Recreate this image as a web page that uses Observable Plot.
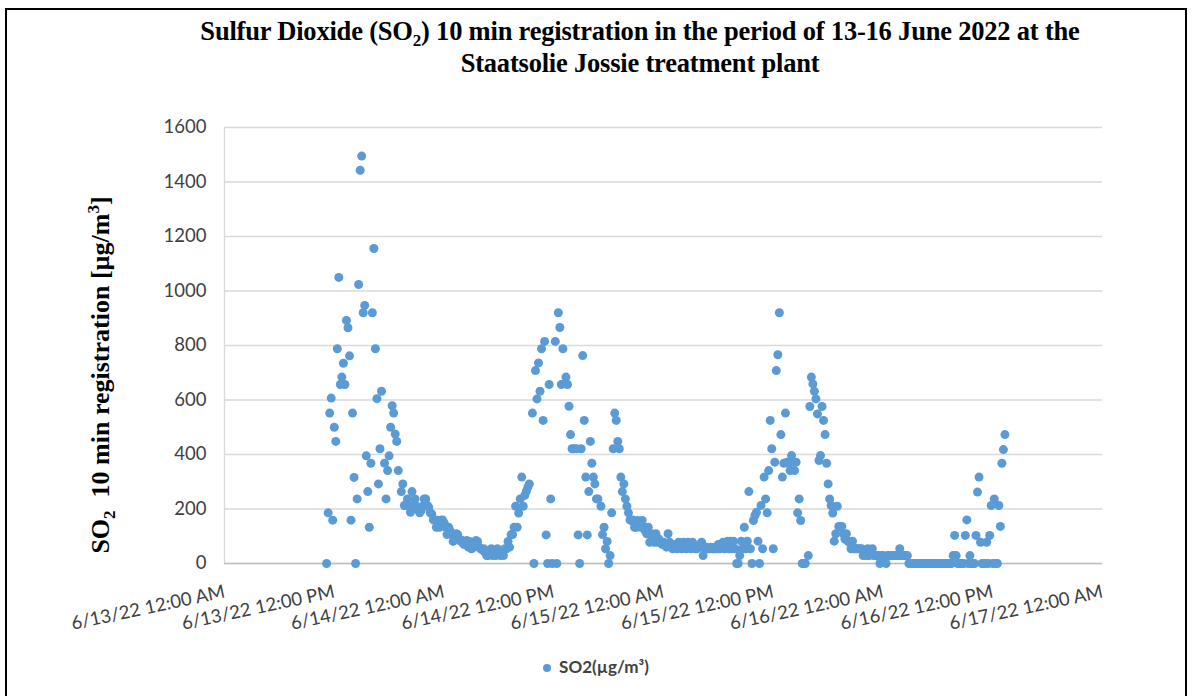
<!DOCTYPE html>
<html><head><meta charset="utf-8">
<script src="https://cdn.jsdelivr.net/npm/d3@7"></script>
<script src="https://cdn.jsdelivr.net/npm/@observablehq/plot@0.6"></script>
<style>
html,body{margin:0;padding:0;width:1192px;height:696px;overflow:hidden;background:#fff;}
#frame{position:absolute;left:5px;top:8px;width:1182px;height:720px;border:2px solid #000;border-bottom:none;box-sizing:border-box;}
#title{position:absolute;left:140px;width:1000px;top:15px;text-align:center;font-family:"Liberation Serif","Times New Roman",serif;font-weight:bold;font-size:26.5px;line-height:32px;color:#000;letter-spacing:-0.2px;}
#title sub{font-size:17px;line-height:0;}
#ytitle{position:absolute;left:101px;top:375px;transform:translate(-50%,-50%) rotate(-90deg);white-space:nowrap;font-family:"Liberation Serif","Times New Roman",serif;font-weight:bold;font-size:26px;color:#000;}
#ytitle sub{font-size:17px;line-height:0;}
#ytitle sup{font-size:17px;line-height:0;}
#chart{position:absolute;left:0;top:90px;}
#legend{position:absolute;left:0;width:1192px;top:656px;text-align:center;font-family:Lato,"Open Sans",sans-serif;font-weight:bold;font-size:17px;color:#404040;}
#legend .sw{display:inline-block;width:8px;height:8px;border-radius:50%;background:#5b9bd5;margin-right:8px;vertical-align:middle;position:relative;top:-1px;}
</style></head>
<body>
<div id="frame"></div>
<div id="title">Sulfur Dioxide (SO<sub>2</sub>) 10 min registration in the period of 13-16 June 2022 at the<br>Staatsolie Jossie treatment plant</div>
<div id="ytitle">SO<sub>2</sub>&nbsp; 10 min registration [µg/m<sup>3</sup>]</div>
<div id="chart"></div>
<div id="legend"><span class="sw"></span>SO2(µg/m³)</div>
<script>
// 10-min readings per day: [time, SO2 µg/m³]
const readings13 = [
["11:10",0],["11:20",186],["11:30",552],["11:40",607],["11:50",159],
["12:00",500],["12:10",448],["12:20",788],["12:30",1050],["12:40",657],["12:50",684],
["13:00",735],["13:10",657],["13:20",892],["13:30",865],["13:40",762],["13:50",159],
["14:00",552],["14:10",316],["14:20",0],["14:30",237],["14:40",1024],["14:50",1443],
["15:00",1495],["15:10",920],["15:20",947],["15:30",395],["15:40",264],["15:50",133],
["16:00",368],["16:10",920],["16:20",1156],["16:30",788],["16:40",605],["16:50",292],
["17:00",421],["17:10",632],["17:30",368],["17:40",237],["17:50",341],
["18:00",395],["18:10",500],["18:20",579],["18:30",552],["18:40",475],["18:50",448],
["19:00",341],["19:20",264],["19:30",292],["19:40",213],["19:50",213],
["20:00",237],["20:10",213],["20:20",188],["20:30",264],["20:40",213],["20:50",237],
["21:00",210],["21:10",200],["21:20",186],["21:30",194],["21:40",210],["21:50",237],
["22:00",237],["22:10",213],["22:20",207],["22:30",186],["22:40",182],["22:50",160],
["23:00",160],["23:10",133],["23:20",159],["23:30",133],["23:40",159],["23:50",160]
];
const readings14 = [
["00:00",150],["00:10",133],["00:20",106],["00:30",133],["00:40",120],["00:50",109],
["01:00",81],["01:10",95],["01:20",109],["01:30",106],["01:40",90],["01:50",81],
["02:00",84],["02:10",70],["02:20",81],["02:30",84],["02:40",60],["02:50",81],
["03:00",54],["03:10",58],["03:20",70],["03:30",84],["03:40",81],["03:50",60],
["04:00",54],["04:10",50],["04:20",54],["04:30",40],["04:40",29],["04:50",29],
["05:00",40],["05:10",54],["05:20",29],["05:30",40],["05:40",29],["05:50",54],
["06:00",40],["06:10",29],["06:20",40],["06:30",29],["06:40",54],["06:50",54],
["07:00",81],["07:10",60],["07:20",106],["07:30",106],["07:40",133],["07:50",210],
["08:00",133],["08:10",185],["08:20",237],["08:30",317],["08:40",210],["08:50",250],
["09:00",265],["09:10",280],["09:20",292],["09:40",552],["09:50",0],
["10:00",708],["10:10",604],["10:20",736],["10:30",632],["10:40",788],["10:50",525],
["11:00",815],["11:10",105],["11:20",0],["11:30",657],["11:40",237],["11:50",0],
["12:10",815],["12:20",0],["12:30",920],["12:40",866],["12:50",657],
["13:00",788],["13:20",684],["13:30",657],["13:40",577],["13:50",473],
["14:00",421],["14:10",421],["14:30",421],["14:40",105],["14:50",0],
["15:00",421],["15:10",763],["15:20",525],["15:30",317],["15:40",105],["15:50",264],
["16:00",448],["16:10",368],["16:20",317],["16:30",292],["16:40",237],["16:50",237],
["17:10",210],["17:20",106],["17:30",133],["17:40",54],["17:50",81],
["18:00",0],["18:10",29],["18:20",186],["18:30",421],["18:40",552],["18:50",525],
["19:00",448],["19:10",421],["19:20",317],["19:30",264],["19:40",292],["19:50",237],
["20:00",210],["20:10",186],["20:20",160],["20:30",158],["20:40",160],["20:50",133],
["21:00",133],["21:10",158],["21:20",145],["21:30",133],["21:40",158],["21:50",133],
["22:00",120],["22:10",109],["22:20",133],["22:30",78],["22:40",109],["22:50",90],
["23:00",78],["23:10",109],["23:20",78],["23:30",90],["23:40",78],["23:50",70]
];
const readings15 = [
["00:00",78],["00:10",70],["00:20",60],["00:30",109],["00:40",78],["00:50",70],
["01:00",54],["01:10",60],["01:20",70],["01:30",54],["01:40",78],["01:50",60],
["02:00",54],["02:10",78],["02:20",60],["02:30",54],["02:40",78],["02:50",60],
["03:00",54],["03:10",78],["03:20",60],["03:30",54],["03:40",54],["03:50",60],
["04:00",70],["04:10",78],["04:20",29],["04:30",54],["04:40",60],["04:50",54],
["05:00",54],["05:10",60],["05:20",54],["05:30",54],["05:40",60],["05:50",54],
["06:00",70],["06:10",54],["06:20",60],["06:30",78],["06:40",54],["06:50",60],
["07:00",82],["07:10",54],["07:20",82],["07:30",54],["07:40",82],["07:50",54],
["08:00",0],["08:10",0],["08:20",29],["08:30",82],["08:40",54],["08:50",133],
["09:00",54],["09:10",82],["09:20",264],["09:30",54],["09:40",0],["09:50",158],
["10:00",176],["10:10",188],["10:20",82],["10:30",0],["10:40",213],["10:50",54],
["11:00",317],["11:10",237],["11:20",186],["11:30",341],["11:40",525],["11:50",421],
["12:00",54],["12:10",372],["12:20",708],["12:30",766],["12:40",920],["12:50",473],
["13:00",317],["13:10",368],["13:20",552],["13:30",372],["13:40",368],["13:50",341],
["14:00",396],["14:10",372],["14:20",341],["14:30",372],["14:40",186],["14:50",237],
["15:00",158],["15:10",0],["15:20",0],["15:30",0],["15:50",29],
["16:00",576],["16:10",684],["16:20",659],["16:30",632],["16:40",604],["16:50",549],
["17:00",378],["17:10",396],["17:20",576],["17:30",525],["17:40",473],["17:50",368],
["18:00",292],["18:10",237],["18:20",213],["18:30",185],["18:40",82],["18:50",109],
["19:00",210],["19:10",136],["19:20",136],["19:30",136],["19:40",109],["19:50",90],
["20:00",109],["20:10",82],["20:20",78],["20:30",54],["20:40",82],["20:50",54],
["21:00",54],["21:10",54],["21:20",54],["21:30",54],["21:40",54],["21:50",29],
["22:00",40],["22:10",29],["22:20",54],["22:30",29],["22:40",40],["22:50",54],
["23:00",29],["23:10",29],["23:20",29],["23:30",29],["23:40",0],["23:50",29]
];
const readings16 = [
["00:00",29],["00:10",5],["00:20",0],["00:30",29],["00:40",29],["00:50",29],
["01:00",29],["01:10",29],["01:20",29],["01:30",29],["01:40",29],["01:50",54],
["02:00",29],["02:10",29],["02:20",29],["02:30",29],["02:40",29],["02:50",0],
["03:00",0],["03:10",0],["03:20",0],["03:30",0],["03:40",0],["03:50",0],
["04:00",0],["04:10",0],["04:20",0],["04:30",0],["04:40",0],["04:50",0],
["05:00",0],["05:10",0],["05:20",0],["05:30",0],["05:40",0],["05:50",0],
["06:00",0],["06:10",0],["06:20",0],["06:30",0],["06:40",0],["06:50",0],
["07:00",0],["07:10",0],["07:20",0],["07:30",0],["07:40",29],["07:50",103],
["08:00",29],["08:10",0],["08:20",0],["08:30",0],["08:40",0],["08:50",0],
["09:00",103],["09:10",160],["09:20",0],["09:30",29],["09:40",0],["09:50",0],
["10:00",0],["10:10",103],["10:20",262],["10:30",317],["10:40",78],["10:50",0],
["11:00",0],["11:10",0],["11:20",78],["11:30",0],["11:40",103],["11:50",213],
["12:00",0],["12:10",237],["12:20",0],["12:30",0],["12:40",213],["12:50",136],
["13:00",368],["13:10",418],["13:20",473]
];
const dayDates = ["2022-06-13","2022-06-14","2022-06-15","2022-06-16"];
const dayReadings = [readings13, readings14, readings15, readings16];
const xTickDates = ["2022-06-13T00:00","2022-06-13T12:00","2022-06-14T00:00","2022-06-14T12:00","2022-06-15T00:00","2022-06-15T12:00","2022-06-16T00:00","2022-06-16T12:00","2022-06-17T00:00"];
const yTicks = [0,200,400,600,800,1000,1200,1400,1600];

const data = dayDates.flatMap((d, k) => dayReadings[k].map(([t, v]) => ({time: new Date(`${d}T${t}:00Z`), so2: v})));
const xTicks = xTickDates.map(s => new Date(s + ":00Z"));
const fmt = d3.utcFormat("%-m/%-d/%y %-I:%M %p");

const chart = Plot.plot({
  width: 1192,
  height: 555,
  marginTop: 37,
  marginBottom: 82,
  marginLeft: 224,
  marginRight: 90,
  style: {fontFamily: "Lato, 'Open Sans', sans-serif", fontSize: "18px", color: "#404040", background: "transparent", overflow: "visible"},
  x: {type: "utc", domain: [xTicks[0], xTicks[xTicks.length - 1]]},
  y: {domain: [0, 1600]},
  marks: [
    Plot.gridY(yTicks, {stroke: "#d9d9d9", strokeOpacity: 1, strokeWidth: 1.3}),
    Plot.ruleX([xTicks[0]], {stroke: "#d9d9d9", strokeWidth: 1.3}),
    Plot.ruleY([0], {stroke: "#bfbfbf", strokeWidth: 1.5}),
    Plot.axisY({ticks: yTicks, tickFormat: d3.format("d"), tickSize: 0, tickPadding: 18, label: null, fontSize: 18.5}),
    Plot.axisX({ticks: xTicks, tickFormat: fmt, tickSize: 0, tickPadding: 28, tickRotate: -12, label: null, fontSize: 18.5}),
    Plot.dot(data, {x: "time", y: "so2", r: 4.5, fill: "#5b9bd5", stroke: "none"})
  ]
});
document.getElementById("chart").appendChild(chart);
</script>
</body></html>
